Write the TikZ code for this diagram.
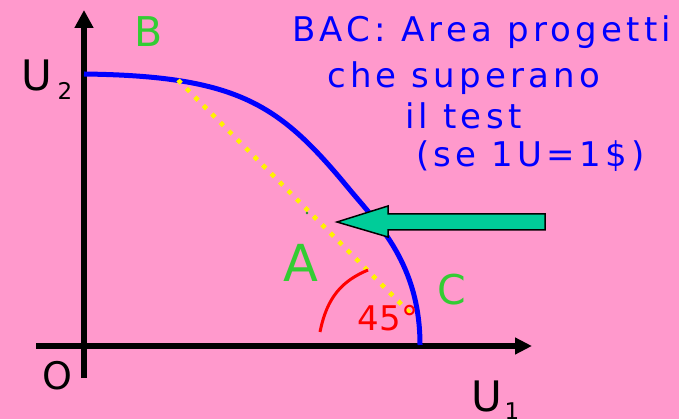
\documentclass[tikz,border=0pt]{standalone}
\usepackage{fontspec}
\setmainfont{DejaVu Sans}
\newfontfamily\blufont[LetterSpace=12.5]{DejaVu Sans}
\usetikzlibrary{arrows.meta}
\definecolor{bgpink}{HTML}{FF99CC}
\definecolor{lblgreen}{HTML}{33CC33}
\definecolor{arrgreen}{HTML}{00CC99}
\tikzset{
  axisline/.style={line width=5.5pt},
  lbl/.style={inner sep=0pt, anchor=base},
  bluetxt/.style={inner sep=0pt, anchor=base west, text=blue, font=\blufont\fontsize{34}{40}\selectfont},
  greenlbl/.style={lbl, text=lblgreen},
}
\begin{document}
\begin{tikzpicture}[x=1pt,y=-1pt]
\fill[bgpink] (0,0) rectangle (679,419);
\useasboundingbox (0,0) rectangle (679,419);
% axes
\coordinate (O) at (84,346);
\coordinate (ytop) at (84,10);
\coordinate (ybot) at (84,378);
\coordinate (xleft) at (36,346);
\coordinate (xright) at (532,346);
\draw[axisline,-{Triangle[length=18pt,width=18pt]}] (ybot) -- (ytop);
\draw[axisline,-{Triangle[length=17pt,width=16pt]}] (xleft) -- (xright);
% frontier
\coordinate (f0) at (84,74);
\coordinate (f1) at (350,190);
\coordinate (f2) at (420,345);
\draw[blue,line width=5pt] (f0) .. controls (240,76) and (280,105) .. (f1)
  .. controls (379,224.7) and (420,265) .. (f2);
% 45 degree dotted line
\coordinate (Bp) at (178,80);
\coordinate (Cp) at (414,317);
\draw[yellow,line width=4.5pt,dash pattern=on 4.5pt off 7.5pt] (Bp) -- (Cp);
% red arc
\draw[red,line width=3pt] (320,332) .. controls (327,297) and (342,281) .. (368,270);
% green arrow
\draw[fill=arrgreen,draw=black,line width=1.5pt,line join=miter]
  (337,222) -- (388,206) -- (388,214) -- (545,214) -- (545,230) -- (388,230) -- (388,237) -- cycle;
\fill[lblgreen!70!black] (307,213) circle (1.3);
% labels
\node[greenlbl,font=\fontsize{41}{48}\selectfont] (lB) at (149,47) {B};
\node[greenlbl,font=\fontsize{51}{60}\selectfont] (lA) at (301,282) {A};
\node[greenlbl,font=\fontsize{41}{48}\selectfont] (lC) at (452,305) {C};
\node[lbl,text=red,font=\fontsize{34}{40}\selectfont] (l45) at (388,330) {45°};
\node[lbl,font=\fontsize{38}{44}\selectfont] (lO) at (57,389) {O};
\node[lbl,font=\fontsize{42}{48}\selectfont] (lU2) at (37,91) {U};
\node[lbl,font=\fontsize{23}{28}\selectfont] (l2) at (65,100) {2};
\node[lbl,font=\fontsize{42}{48}\selectfont] (lU1) at (487,411) {U};
\node[lbl,font=\fontsize{23}{28}\selectfont] (l1) at (512,419) {1};
% blue text
\node[bluetxt] (t1) at (292,42) {BAC: Area progetti};
\node[bluetxt] (t2) at (327,88) {che superano};
\node[bluetxt] (t3) at (405,129) {il test};
\node[bluetxt] (t4) at (416,167) {(se 1U=1\$)};
\end{tikzpicture}
\end{document}
